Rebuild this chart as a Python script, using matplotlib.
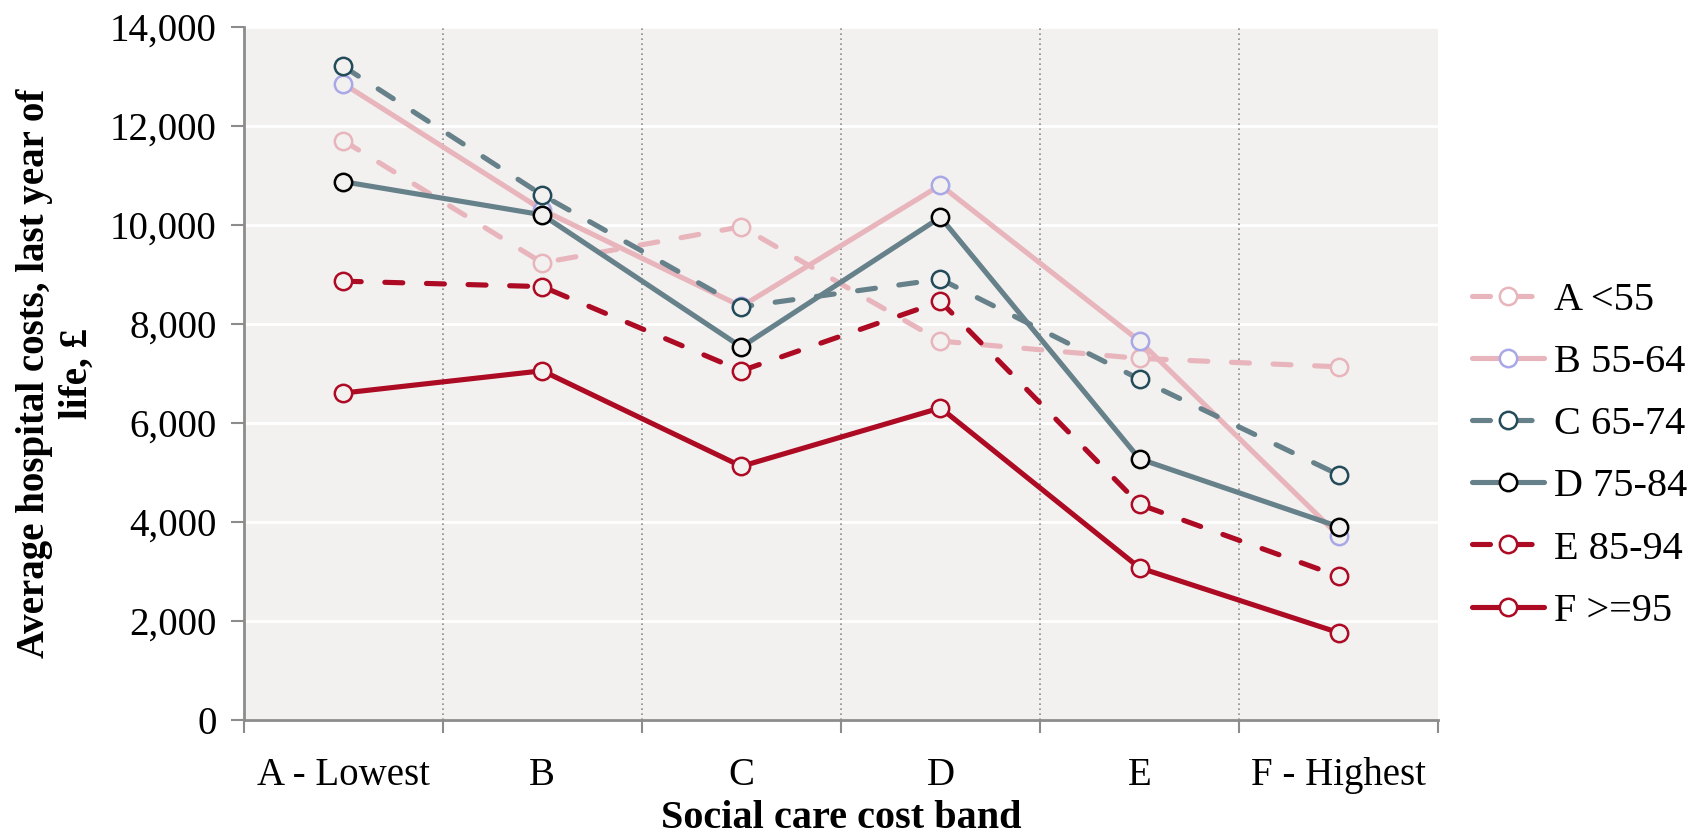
import numpy as np
import matplotlib.pyplot as plt
from matplotlib.ticker import FuncFormatter, FixedLocator

bands = ['A - Lowest', 'B', 'C', 'D', 'E', 'F - Highest']

age_a = [11700, 9230, 9960, 7650, 7300, 7130]
age_b = [12850, 10300, 8350, 10800, 7650, 3720]
age_c = [13200, 10600, 8340, 8900, 6880, 4950]
age_d = [10870, 10200, 7530, 10150, 5270, 3900]
age_e = [8860, 8750, 7050, 8450, 4350, 2900]
age_f = [6600, 7050, 5120, 6300, 3070, 1760]

labels = ['A <55', 'B 55-64', 'C 65-74', 'D 75-84', 'E 85-94', 'F >=95']

pink = '#e8b5bc'
grey = '#67818b'
red = '#ad0a24'
bg = '#f2f1ef'
dash = (0, (3.5, 4.6))

styles = [
    (pink, dash, pink),
    (pink, '-', '#a9a8e6'),
    (grey, dash, '#234b59'),
    (grey, '-', '#000000'),
    (red, dash, red),
    (red, '-', red),
]

plt.rcParams['font.family'] = ['Liberation Serif', 'DejaVu Serif']

fig = plt.figure(figsize=(17.04, 8.35), dpi=100)
ax = fig.add_axes([0.143, 0.138, 0.701, 0.830])
ax.set_facecolor(bg)

x = np.arange(len(bands))
series = [age_a, age_b, age_c, age_d, age_e, age_f]
for vals, lab, (col, ls, mcol) in zip(series, labels, styles):
    ax.plot(x, vals, color=col, linestyle=ls, linewidth=3.7,
            marker='o', markersize=12.5, markerfacecolor=bg,
            markeredgecolor=mcol, markeredgewidth=1.8, label=lab,
            solid_capstyle='round', dash_capstyle='round')

ax.set_xlim(-0.5, 5.5)
ax.set_ylim(0, 14000)
ax.yaxis.set_major_locator(FixedLocator(np.arange(0, 14001, 2000)))
ax.yaxis.set_major_formatter(FuncFormatter(lambda v, p: f'{int(v):,}'))
ax.set_xticks(x)
ax.set_xticklabels(bands)
ax.set_xticks(np.arange(-0.5, 5.6, 1), minor=True)
ax.tick_params(axis='x', which='major', length=0, pad=27, labelsize=28)
ax.tick_params(axis='x', which='minor', length=9.5, width=1.5, color='#8c8c8c')
ax.tick_params(axis='y', length=9.5, width=1.5, color='#8c8c8c', labelsize=28, pad=10)

ax.grid(axis='y', color='white', linewidth=2)
for b in np.arange(0.5, 5.0, 1):
    ax.axvline(b, color='#8c8c8c', linestyle=(0, (1, 2)), linewidth=1.2, zorder=1)
ax.set_axisbelow(True)

for s in ['top', 'right']:
    ax.spines[s].set_visible(False)
for s in ['left', 'bottom']:
    ax.spines[s].set_color('#8c8c8c')
    ax.spines[s].set_linewidth(2)

ax.set_xlabel('Social care cost band', fontsize=29, fontweight='bold', labelpad=4)
ax.set_ylabel('Average hospital costs, last year of\nlife, £', fontsize=28,
              fontweight='bold', labelpad=10, linespacing=1.2)

leg = ax.legend(loc='center left', bbox_to_anchor=(1.028, 0.381), frameon=False,
                fontsize=29, labelspacing=0.62, handlelength=1.8, handletextpad=0.25,
                borderpad=0, borderaxespad=0)
for h in leg.legend_handles:
    h.set_markerfacecolor('white')

fig.savefig('out.png', dpi=100)
